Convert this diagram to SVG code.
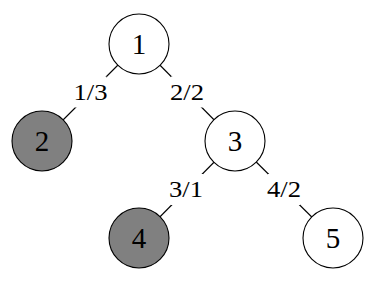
<svg xmlns="http://www.w3.org/2000/svg" width="380" height="290" viewBox="0 0 380 290">
<style>
.n{stroke:#000;stroke-width:1.1;fill:#fff}
.g{fill:#808080}
.t{font-family:"Liberation Serif","DejaVu Serif",serif;font-size:29px;text-anchor:middle;fill:#000}
.e{stroke:#000;stroke-width:1.1}
.bg{fill:#fff}
.l{font-family:"Liberation Serif","DejaVu Serif",serif;font-size:24px;text-anchor:middle;fill:#000}
</style>
<rect width="380" height="290" fill="#fff"/>
<g id="connectors">
<line class="e" x1="139" y1="44" x2="42" y2="141"/>
<line class="e" x1="139" y1="44" x2="235" y2="141"/>
<line class="e" x1="235" y1="141" x2="139" y2="238"/>
<line class="e" x1="235" y1="141" x2="333" y2="238"/>
<rect class="bg" x="74.5" y="76.5" width="32" height="31"/>
<rect class="bg" x="171" y="76.5" width="32" height="31"/>
<rect class="bg" x="171" y="174" width="32" height="31"/>
<rect class="bg" x="268" y="174" width="32" height="31"/>
<text class="l" x="90.5" y="100" textLength="34" lengthAdjust="spacingAndGlyphs">1/3</text>
<text class="l" x="187" y="100" textLength="34" lengthAdjust="spacingAndGlyphs">2/2</text>
<text class="l" x="186" y="197" textLength="34" lengthAdjust="spacingAndGlyphs">3/1</text>
<text class="l" x="284" y="197" textLength="34" lengthAdjust="spacingAndGlyphs">4/2</text>
</g>
<g id="node1"><circle class="n" cx="139" cy="44" r="30"/><text class="t" x="139" y="54">1</text></g>
<g id="node2"><circle class="n g" cx="42" cy="141" r="30"/><text class="t" x="42" y="151">2</text></g>
<g id="node3"><circle class="n" cx="235" cy="141" r="30"/><text class="t" x="235" y="151">3</text></g>
<g id="node4"><circle class="n g" cx="139" cy="238" r="30"/><text class="t" x="139" y="248">4</text></g>
<g id="node5"><circle class="n" cx="333" cy="238" r="30"/><text class="t" x="333" y="248">5</text></g>
</svg>
